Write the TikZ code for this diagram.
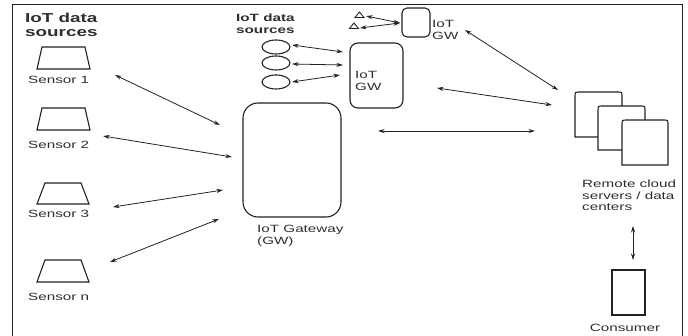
\documentclass[tikz,border=0pt]{standalone}
\usepackage{fontspec}
\setmainfont{Liberation Sans}[FakeStretch=1.45]
\usetikzlibrary{arrows.meta,shapes.geometric}
\definecolor{txt}{HTML}{2E2E2E}
\definecolor{ln}{HTML}{222222}
\tikzset{
  lbl/.style={font=\fontsize{10.5}{11.8}\selectfont, text=txt, inner sep=0pt, align=left},
  hdr/.style={font=\bfseries\fontsize{13}{13.5}\selectfont, text=txt, inner sep=0pt, align=left},
  hdrs/.style={font=\bfseries\fontsize{10.5}{11.5}\selectfont, text=txt, inner sep=0pt, align=left},
  shp/.style={draw=ln, line width=1.1pt, fill=white},
  gwbox/.style={draw=ln, line width=1.1pt, inner sep=0pt},
  src/.style={draw=ln, line width=1.1pt, ellipse, minimum width=28pt, minimum height=14pt, inner sep=0pt},
  link/.style={draw=ln, line width=0.8pt, {Stealth[length=6.5pt,width=4pt]}-{Stealth[length=6.5pt,width=4pt]}},
}
\begin{document}
\begin{tikzpicture}[x=1pt,y=-1pt]
\useasboundingbox (0,0) rectangle (688,336);
% frame
\draw[ln, line width=1pt] (12,337) -- (12,5) -- (682,5) -- (682,337);

% left header
\node[hdr, anchor=north west] (hdrL) at (25,13) {IoT data\\sources};

% sensors
\draw[shp] (37,69) -- (42,47) -- (85,47) -- (90,69) -- cycle;
\draw[shp] (37,130) -- (42,108) -- (85,108) -- (90,130) -- cycle;
\draw[shp] (37,204) -- (45,183) -- (81,183) -- (89,204) -- cycle;
\draw[shp] (37,282) -- (45,260) -- (81,260) -- (89,282) -- cycle;
\node[lbl, anchor=west] (s1) at (28,80) {Sensor 1};
\node[lbl, anchor=west] (s2) at (28,145) {Sensor 2};
\node[lbl, anchor=west] (s3) at (28,214) {Sensor 3};
\node[lbl, anchor=west] (sn) at (28,297) {Sensor n};

% big gateway
\node[gwbox, rounded corners=15pt, minimum width=98pt, minimum height=114pt] (gw) at (292,160) {};
\node[lbl, anchor=north west] (gwl) at (257,225) {IoT Gateway\\(GW)};

% middle header and circles
\node[hdrs, anchor=north west] (hdrM) at (236,14) {IoT data\\sources};
\node[src] (c1) at (276,47) {};
\node[src] (c2) at (276,63) {};
\node[src] (c3) at (276,82) {};

% middle IoT GW
\node[gwbox, rounded corners=8pt, minimum width=53pt, minimum height=65pt] (mgw) at (376.5,75.5) {};
\node[lbl, anchor=north west] (mgwl) at (355,71) {IoT\\GW};

% top IoT GW
\node[gwbox, rounded corners=5pt, minimum width=28pt, minimum height=29pt] (tgw) at (416,22.5) {};
\node[lbl, anchor=north west] (tgwl) at (432,20) {IoT\\GW};

% triangles
\draw[ln, line width=0.9pt] (355,17.5) -- (364,17.5) -- (359.5,12) -- cycle;
\draw[ln, line width=0.9pt] (349.5,28.5) -- (358.5,28.5) -- (354,23) -- cycle;

% cloud servers
\draw[shp] (575,137) -- (575,97) .. controls (575,92) .. (580,92) -- (617,92) .. controls (622,92) .. (622,97) -- (622,137) -- cycle;
\draw[shp] (598,150) -- (598,111) .. controls (598,106) .. (603,106) -- (640,106) .. controls (645,106) .. (645,111) -- (645,150) -- cycle;
\draw[shp] (622,165) -- (622,125) .. controls (622,120) .. (627,120) -- (663,120) .. controls (668,120) .. (668,125) -- (668,165) -- cycle;
\node[lbl, anchor=north west] (cl) at (582,179.5) {Remote cloud\\servers / data\\centers};

% consumer
\node[gwbox, minimum width=33pt, minimum height=45pt] (cons) at (628.5,292.5) {};
\node[lbl] (consl) at (625,328) {Consumer};

% connector end points
\coordinate (a1s) at (115,75);  \coordinate (a1g) at (220,125);
\coordinate (a2s) at (103,136); \coordinate (a2g) at (232,157);
\coordinate (a3s) at (113,207); \coordinate (a3g) at (223,190);
\coordinate (a4s) at (110,262); \coordinate (a4g) at (219,219);
\coordinate (e1) at (292,45); \coordinate (m1) at (343,52);
\coordinate (e2) at (292,64); \coordinate (m2) at (343,65);
\coordinate (e3) at (292,82); \coordinate (m3) at (340,75);
\coordinate (t1) at (366,16); \coordinate (t2) at (360,28); \coordinate (tg) at (400,23);
\coordinate (tgo) at (465,30); \coordinate (ct) at (558,90);
\coordinate (mgo) at (437,88); \coordinate (cm) at (552,105);
\coordinate (bgo) at (378,131); \coordinate (cb) at (535,131);
\coordinate (cd) at (633,226); \coordinate (co) at (633,260);

\draw[link] (a1s) -- (a1g);
\draw[link] (a2s) -- (a2g);
\draw[link] (a3s) -- (a3g);
\draw[link] (a4s) -- (a4g);
\draw[link] (e1) -- (m1);
\draw[link] (e2) -- (m2);
\draw[link] (e3) -- (m3);
\draw[link] (t1) -- (tg);
\draw[link] (t2) -- (tg);
\draw[link] (tgo) -- (ct);
\draw[link] (mgo) -- (cm);
\draw[link] (bgo) -- (cb);
\draw[link] (cd) -- (co);
\end{tikzpicture}
\end{document}
